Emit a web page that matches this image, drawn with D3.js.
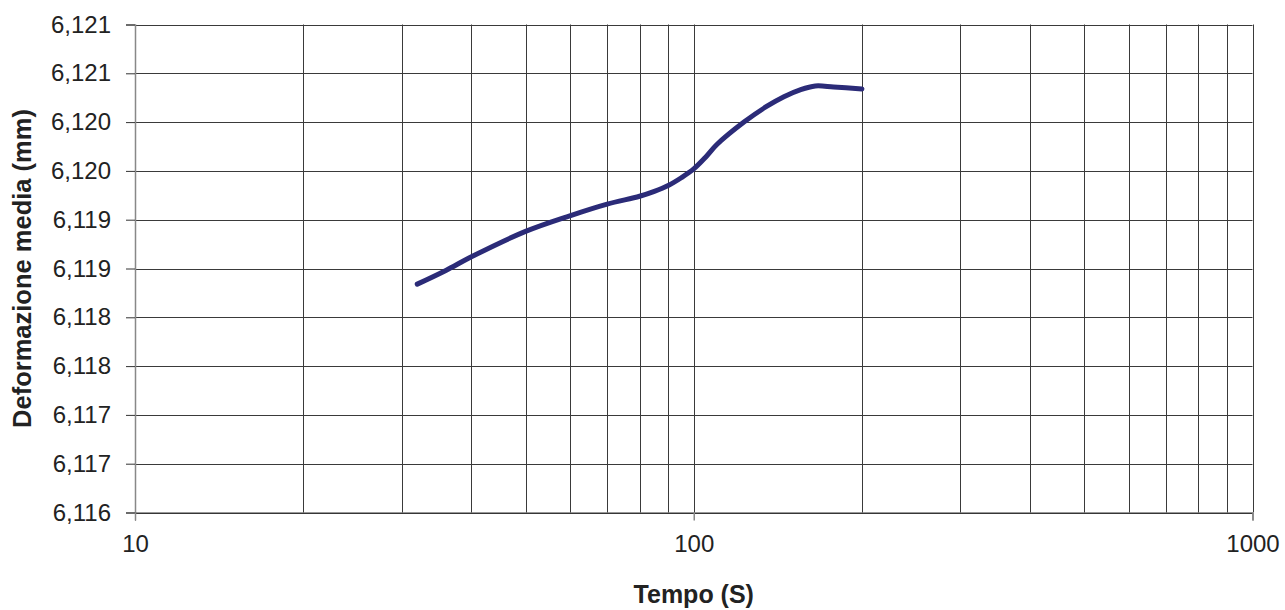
<!DOCTYPE html>
<html>
<head>
<meta charset="utf-8">
<script src="https://cdn.jsdelivr.net/npm/d3@7"></script>
<style>
  html, body { margin: 0; padding: 0; background: #fff; }
  svg { display: block; font-family: "Liberation Sans", Arial, sans-serif; }
</style>
</head>
<body>
<svg id="chart" width="1285" height="610"></svg>
<script>
// Data
const times = [32, 36, 40, 50, 60, 70, 80, 85, 90, 95, 100, 105, 110, 123, 135, 145, 155, 165, 178, 200];
const deformation = [6.11834, 6.11848, 6.11862, 6.11888, 6.11904, 6.11916, 6.11924, 6.11929,
                     6.11935, 6.11943, 6.11952, 6.11964, 6.11977, 6.12000, 6.12016, 6.12026,
                     6.12033, 6.12037, 6.12036, 6.12034];
const yTicks = [6.116, 6.1165, 6.117, 6.1175, 6.118, 6.1185, 6.119, 6.1195, 6.120, 6.1205, 6.121];
const yTickLabels = ["6,116", "6,117", "6,117", "6,118", "6,118", "6,119", "6,119", "6,120", "6,120", "6,121", "6,121"];
const xMajorTicks = [10, 100, 1000];
const xTickLabels = ["10", "100", "1000"];
const xGridTicks = [20, 30, 40, 50, 60, 70, 80, 90, 100, 200, 300, 400, 500, 600, 700, 800, 900, 1000];
const xTitle = "Tempo (S)";
const yTitle = "Deformazione media (mm)";

const svg = d3.select("#chart");
const pLeft = 135, pRight = 1252.5, pTop = 24.5, pBottom = 512.5;

const x = d3.scaleLog().domain([10, 1000]).range([pLeft, pRight]);
const y = d3.scaleLinear().domain([6.116, 6.121]).range([pBottom, pTop]);

// Horizontal grid
svg.append("g")
  .selectAll("line").data(yTicks).join("line")
  .attr("x1", pLeft).attr("x2", pRight)
  .attr("y1", d => Math.round(y(d)) + 0.5).attr("y2", d => Math.round(y(d)) + 0.5)
  .attr("stroke", "#3a3a3a").attr("stroke-width", 1);

// Vertical grid
svg.append("g")
  .selectAll("line").data(xGridTicks).join("line")
  .attr("x1", d => Math.round(x(d)) + 0.5).attr("x2", d => Math.round(x(d)) + 0.5)
  .attr("y1", pTop).attr("y2", pBottom)
  .attr("stroke", "#3a3a3a").attr("stroke-width", 1);

// Y axis
const yAxis = d3.axisLeft(y).tickValues(yTicks)
  .tickFormat((d, i) => yTickLabels[i]).tickSize(9).tickPadding(15);
const gy = svg.append("g").attr("transform", `translate(${pLeft},0)`).call(yAxis);
gy.select(".domain").attr("stroke", "#888").attr("stroke-width", 1.5);
gy.selectAll(".tick line").attr("stroke", "#333");
gy.selectAll(".tick text").attr("font-size", 24).attr("fill", "#222")
  .attr("font-family", "'Liberation Sans', Arial, sans-serif");

// X axis
const xAxis = d3.axisBottom(x).tickValues(xMajorTicks)
  .tickFormat((d, i) => xTickLabels[i]).tickSize(8).tickPadding(14);
const gx = svg.append("g").attr("transform", `translate(0,${pBottom})`).call(xAxis);
gx.select(".domain").attr("stroke", "#333").attr("stroke-width", 1);
gx.selectAll(".tick line").attr("stroke", "#888").attr("stroke-width", 1.5);
gx.selectAll(".tick text").attr("font-size", 24).attr("fill", "#222")
  .attr("font-family", "'Liberation Sans', Arial, sans-serif");

// Line
const line = d3.line()
  .x((d, i) => x(times[i]))
  .y(d => y(d))
  .curve(d3.curveCatmullRom.alpha(0.5));
svg.append("path")
  .datum(deformation)
  .attr("d", line)
  .attr("fill", "none")
  .attr("stroke", "#2b2b78")
  .attr("stroke-width", 5)
  .attr("stroke-linecap", "round")
  .attr("stroke-linejoin", "round");

// Titles
svg.append("text")
  .attr("x", (pLeft + pRight) / 2).attr("y", 603)
  .attr("text-anchor", "middle")
  .attr("font-size", 25).attr("font-weight", "bold").attr("fill", "#222")
  .text(xTitle);

svg.append("text")
  .attr("transform", `translate(31,${(pTop + pBottom) / 2}) rotate(-90)`)
  .attr("text-anchor", "middle")
  .attr("font-size", 25.5).attr("font-weight", "bold").attr("fill", "#222")
  .text(yTitle);
</script>
</body>
</html>
